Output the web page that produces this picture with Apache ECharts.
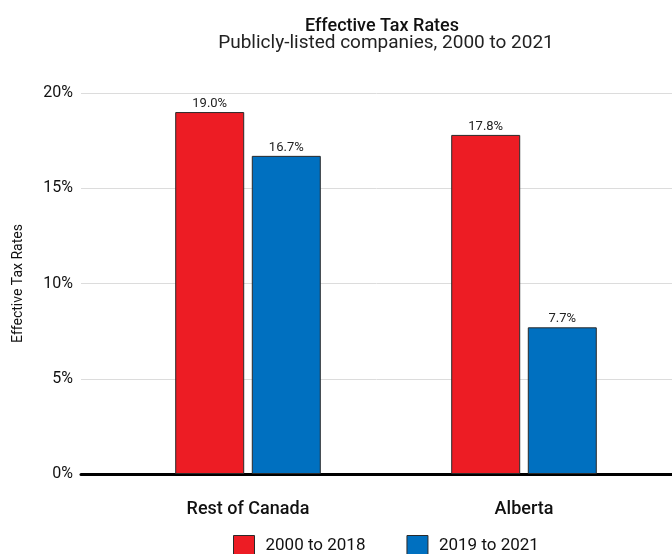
<!DOCTYPE html>
<html>
<head>
<meta charset="utf-8">
<script src="https://cdn.jsdelivr.net/npm/echarts@6/dist/echarts.min.js"></script>
<style>
  html, body { margin: 0; padding: 0; background: #fff; }
  #chart { width: 672px; height: 554px; }
</style>
</head>
<body>
<div id="chart"></div>
<script>
var categories = ["Rest of Canada", "Alberta"];
var seriesNames = ["2000 to 2018", "2019 to 2021"];
var values2000to2018 = [19.0, 17.8];
var values2019to2021 = [16.7, 7.7];
var yTicks = { min: 0, max: 20, interval: 5 };

var font = "Roboto";

function barSeries(name, data, color) {
  return {
    name: name,
    type: "bar",
    xAxisIndex: 1,
    yAxisIndex: 1,
    data: data,
    barWidth: 69,
    barGap: "11%",
    itemStyle: { color: color, borderColor: "#2a2a2a", borderWidth: 1 },
    label: {
      show: true,
      position: "top",
      distance: 2,
      fontFamily: font,
      fontSize: 13,
      color: "#222",
      formatter: function (p) { return p.value.toFixed(1) + "%"; }
    }
  };
}

var option = {
  animation: false,
  textStyle: { fontFamily: font },
  title: [
    {
      text: "Effective Tax Rates",
      left: 377, top: 12, textAlign: "center",
      textStyle: { fontFamily: font, fontSize: 18, fontWeight: 500, color: "#111" }
    },
    {
      text: "Publicly-listed companies, 2000 to 2021",
      left: 381, top: 29, textAlign: "center",
      textStyle: { fontFamily: font, fontSize: 19, fontWeight: "normal", color: "#222" }
    }
  ],
  legend: {
    data: seriesNames,
    left: 233, top: 535, padding: 0,
    itemWidth: 21, itemHeight: 21, itemGap: 41,
    icon: "rect",
    itemStyle: { borderColor: "#2a2a2a", borderWidth: 1 },
    textStyle: { fontFamily: font, fontSize: 17, color: "#111", padding: [0, 0, 0, 6] }
  },
  grid: [
    { left: 81, right: 0, top: 93, bottom: 80 },
    { left: 110, right: 10, top: 93, bottom: 80 }
  ],
  xAxis: [
    {
      type: "category", gridIndex: 0, data: ["", ""],
      axisLine: { lineStyle: { color: "#000", width: 3 } },
      axisTick: { show: false }, axisLabel: { show: false }
    },
    {
      type: "category", gridIndex: 1, data: categories,
      axisLine: { show: false }, axisTick: { show: false },
      axisLabel: { margin: 26, fontFamily: font, fontSize: 18, fontWeight: 500, color: "#111" }
    }
  ],
  yAxis: [
    {
      type: "value", gridIndex: 0,
      min: yTicks.min, max: yTicks.max, interval: yTicks.interval,
      name: "Effective Tax Rates", nameLocation: "middle", nameGap: 56,
      nameTextStyle: { fontFamily: font, fontSize: 14, color: "#111" },
      axisLine: { show: false }, axisTick: { show: false },
      axisLabel: { formatter: "{value}%", margin: 8, fontFamily: font, fontSize: 16, color: "#111" },
      splitLine: { lineStyle: { color: "#dcdcdc" } }
    },
    {
      type: "value", gridIndex: 1,
      min: yTicks.min, max: yTicks.max, interval: yTicks.interval,
      show: false, splitLine: { show: false }
    }
  ],
  series: [
    barSeries(seriesNames[0], values2000to2018, "#ED1C24"),
    barSeries(seriesNames[1], values2019to2021, "#0070C0")
  ]
};

var chart = echarts.init(document.getElementById("chart"));
chart.setOption(option);
</script>
</body>
</html>
